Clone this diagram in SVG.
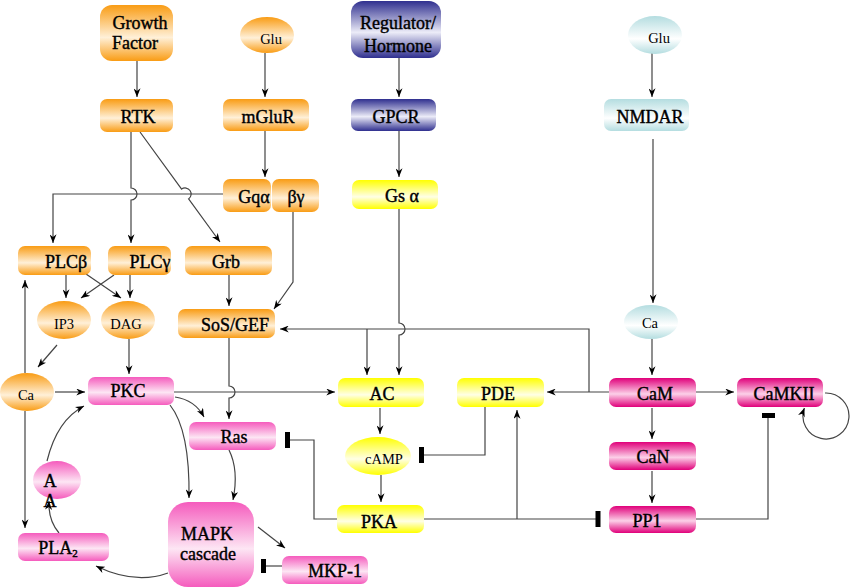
<svg xmlns="http://www.w3.org/2000/svg" width="850" height="588" viewBox="0 0 850 588">
<defs>
<linearGradient id="gO" x1="0" y1="0" x2="0" y2="1"><stop offset="0" stop-color="#f99c14"/><stop offset="0.58" stop-color="#fff0d8"/><stop offset="1" stop-color="#f99c14"/></linearGradient>
<linearGradient id="gB" x1="0" y1="0" x2="0" y2="1"><stop offset="0" stop-color="#2f2f8f"/><stop offset="0.55" stop-color="#ececf8"/><stop offset="1" stop-color="#2f2f8f"/></linearGradient>
<linearGradient id="gY" x1="0" y1="0" x2="0" y2="1"><stop offset="0" stop-color="#ffff00"/><stop offset="0.58" stop-color="#ffffe6"/><stop offset="1" stop-color="#ffff00"/></linearGradient>
<linearGradient id="gP" x1="0" y1="0" x2="0" y2="1"><stop offset="0" stop-color="#f55bbd"/><stop offset="0.55" stop-color="#fde6f4"/><stop offset="1" stop-color="#f55bbd"/></linearGradient>
<linearGradient id="gM" x1="0" y1="0" x2="0" y2="1"><stop offset="0" stop-color="#e0007a"/><stop offset="0.55" stop-color="#fcd0e8"/><stop offset="1" stop-color="#e0007a"/></linearGradient>
<linearGradient id="gC" x1="0" y1="0" x2="0" y2="1"><stop offset="0" stop-color="#b4dde0"/><stop offset="0.6" stop-color="#ffffff"/><stop offset="1" stop-color="#b4dde0"/></linearGradient>
<marker id="arr" viewBox="0 0 10 8" refX="10" refY="4" markerWidth="9" markerHeight="7" markerUnits="userSpaceOnUse" orient="auto"><path d="M0,0 L10,4 L0,8 L3,4 z" fill="#000"/></marker>
<style>
.t{font-family:"Liberation Serif","Times New Roman",serif;font-size:18px;fill:#000;stroke:#000;stroke-width:0.4;text-anchor:middle}
.s{font-family:"Liberation Serif","Times New Roman",serif;font-size:14.5px;fill:#000;text-anchor:middle}
.ln{fill:none;stroke:#444;stroke-width:1.2}
.a{marker-end:url(#arr)}
.bar{stroke:#000;stroke-width:5;fill:none}
</style>
</defs>
<rect width="850" height="588" fill="#fff"/>

<g id="connectors">
<path class="ln a" d="M137,61 V97"/>
<path class="ln a" d="M265,53 V97"/>
<path class="ln a" d="M265,131 V177"/>
<path class="ln a" d="M399,58 V97"/>
<path class="ln a" d="M399,131 V177"/>
<path class="ln a" d="M652,53 V97"/>
<path class="ln a" d="M653,139 V303"/>
<path class="ln a" d="M131,132 V188 A6,6 0 0,1 131,200 V243"/>
<path class="ln a" d="M140,132 L181.6,189.1 A6,6 0 0,1 188.6,198.9 L220,242"/>
<path class="ln a" d="M223,194 H53 V243"/>
<path class="ln a" d="M293,212 V282 L274,309"/>
<path class="ln a" d="M229,275 V306"/>
<path class="ln a" d="M66,275 V298"/>
<path class="ln a" d="M130,275 V298"/>
<path class="ln a" d="M86,274 L121,298"/>
<path class="ln a" d="M114,275 L81,298"/>
<path class="ln a" d="M57,345 L38,367"/>
<path class="ln a" d="M129,339 V374"/>
<path class="ln a" d="M55,392 H85"/>
<path class="ln a" d="M25,373 V280"/>
<path class="ln a" d="M25,411 V528"/>
<path class="ln a" d="M229,338 V386 A6,6 0 0,1 229,398 V419"/>
<path class="ln a" d="M174,392 H335"/>
<path class="ln a" d="M399,209 V323 A6,6 0 0,1 399,335 V375"/>
<path class="ln a" d="M609,392 H547"/>
<path class="ln a" d="M589,392 V329 H280"/>
<path class="ln a" d="M367,329 V375"/>
<path class="ln a" d="M380,408 V434"/>
<path class="ln a" d="M381,475 V502"/>
<path class="ln" d="M337,519 H314 V440 H290"/>
<line class="bar" x1="287.5" y1="432" x2="287.5" y2="448"/>
<path class="ln" d="M485,407 V455 H424"/>
<line class="bar" x1="421.5" y1="447" x2="421.5" y2="463"/>
<path class="ln" d="M424,519 H596"/>
<line class="bar" x1="598" y1="511" x2="598" y2="527"/>
<path class="ln a" d="M517,519 V410"/>
<path class="ln a" d="M652,339 V375"/>
<path class="ln a" d="M696,392 H734"/>
<path class="ln a" d="M652,408 V439"/>
<path class="ln a" d="M652,471 V503"/>
<path class="ln" d="M696,519 H768 V418"/>
<line class="bar" x1="762" y1="415.5" x2="775" y2="415.5"/>
<path class="ln a" d="M825,393 A23,23 0 1,1 804.4,408"/>
<path class="ln a" d="M175,397 Q195,400 204,417"/>
<path class="ln a" d="M170,405 Q190,430 189,498"/>
<path class="ln a" d="M229,450 Q239,470 233,500"/>
<path class="ln a" d="M258,527 L285,548"/>
<path class="ln" d="M282,566 H266"/>
<line class="bar" x1="263.5" y1="559" x2="263.5" y2="573"/>
<path class="ln a" d="M168,573 Q135,585 96,566"/>
<path class="ln a" d="M59,533 Q48,520 49,501"/>
<path class="ln a" d="M47,461 Q57,420 84,406"/>
</g>

<g id="growth-factor"><rect x="100" y="5" width="73" height="56" rx="12" fill="url(#gO)"/><text class="t" x="140" y="29">Growth</text><text class="t" x="135" y="49">Factor</text></g>
<g id="glu-1"><ellipse cx="267" cy="35" rx="27" ry="18" fill="url(#gO)"/><text class="s" x="271" y="44">Glu</text></g>
<g id="rtk"><rect x="100" y="99" width="73" height="33" rx="7" fill="url(#gO)"/><text class="t" x="138" y="123">RTK</text></g>
<g id="mglur"><rect x="223" y="99" width="86" height="32" rx="7" fill="url(#gO)"/><text class="t" x="268" y="123">mGluR</text></g>
<g id="gqa"><rect x="223" y="179" width="48" height="33" rx="7" fill="url(#gO)"/><text class="t" x="254" y="203">Gqα</text></g>
<g id="bg"><rect x="272" y="179" width="47" height="33" rx="7" fill="url(#gO)"/><text class="t" x="296" y="203">βγ</text></g>
<g id="regulator"><rect x="351" y="1" width="90" height="57" rx="12" fill="url(#gB)"/><text class="t" x="398" y="29">Regulator/</text><text class="t" x="398" y="52">Hormone</text></g>
<g id="gpcr"><rect x="351" y="99" width="85" height="32" rx="7" fill="url(#gB)"/><text class="t" x="396" y="123">GPCR</text></g>
<g id="gsa"><rect x="352" y="180" width="86" height="29" rx="7" fill="url(#gY)"/><text class="t" x="402" y="202">Gs α</text></g>
<g id="glu-2"><ellipse cx="655" cy="35" rx="27" ry="19" fill="url(#gC)"/><text class="s" x="659" y="43">Glu</text></g>
<g id="nmdar"><rect x="604" y="99" width="85" height="32" rx="7" fill="url(#gC)"/><text class="t" x="650" y="123">NMDAR</text></g>
<g id="plcb"><rect x="18" y="246" width="73" height="29" rx="7" fill="url(#gO)"/><text class="t" x="66" y="268">PLCβ</text></g>
<g id="plcg"><rect x="108" y="246" width="63" height="29" rx="7" fill="url(#gO)"/><text class="t" x="150" y="268">PLCγ</text></g>
<g id="grb"><rect x="185" y="246" width="87" height="29" rx="7" fill="url(#gO)"/><text class="t" x="226" y="268">Grb</text></g>
<g id="ip3"><ellipse cx="64" cy="320" rx="27" ry="19" fill="url(#gO)"/><text class="s" x="64" y="329">IP3</text></g>
<g id="dag"><ellipse cx="128" cy="320" rx="27" ry="19" fill="url(#gO)"/><text class="s" x="126" y="329">DAG</text></g>
<g id="sos"><rect x="178" y="309" width="97" height="29" rx="7" fill="url(#gO)"/><text class="t" x="235" y="331">SoS/GEF</text></g>
<g id="ca-1"><ellipse cx="27" cy="392" rx="27" ry="19" fill="url(#gO)"/><text class="s" x="26" y="400">Ca</text></g>
<g id="pkc"><rect x="88" y="377" width="86" height="28" rx="7" fill="url(#gP)"/><text class="t" x="128" y="397">PKC</text></g>
<g id="ac"><rect x="338" y="378" width="86" height="29" rx="7" fill="url(#gY)"/><text class="t" x="382" y="400">AC</text></g>
<g id="pde"><rect x="457" y="378" width="87" height="29" rx="7" fill="url(#gY)"/><text class="t" x="498" y="400">PDE</text></g>
<g id="ca-2"><ellipse cx="651" cy="322" rx="27" ry="17" fill="url(#gC)"/><text class="s" x="650" y="328">Ca</text></g>
<g id="cam"><rect x="609" y="378" width="87" height="29" rx="7" fill="url(#gM)"/><text class="t" x="655" y="400">CaM</text></g>
<g id="camkii"><rect x="737" y="378" width="86" height="29" rx="7" fill="url(#gM)"/><text class="t" x="784" y="400">CaMKII</text></g>
<g id="can"><rect x="609" y="442" width="87" height="28" rx="7" fill="url(#gM)"/><text class="t" x="653" y="463">CaN</text></g>
<g id="pp1"><rect x="609" y="506" width="87" height="27" rx="7" fill="url(#gM)"/><text class="t" x="647" y="527">PP1</text></g>
<g id="camp"><ellipse cx="378" cy="456" rx="33" ry="19" fill="url(#gY)"/><text class="s" x="384" y="464">cAMP</text></g>
<g id="pka"><rect x="337" y="505" width="87" height="28" rx="7" fill="url(#gY)"/><text class="t" x="379" y="528">PKA</text></g>
<g id="ras"><rect x="189" y="422" width="87" height="28" rx="7" fill="url(#gP)"/><text class="t" x="234" y="443">Ras</text></g>
<g id="mapk"><rect x="168" y="502" width="86" height="85" rx="20" fill="url(#gP)"/><text class="t" x="207" y="540">MAPK</text><text class="t" x="208" y="560">cascade</text></g>
<g id="mkp1"><rect x="282" y="556" width="86" height="28" rx="7" fill="url(#gP)"/><text class="t" x="335" y="577">MKP-1</text></g>
<g id="aa"><ellipse cx="57" cy="480" rx="24" ry="19" fill="url(#gP)"/><text class="t" x="50" y="487">A</text><text class="t" x="50" y="507">A</text></g>
<g id="pla2"><rect x="18" y="533" width="91" height="28" rx="7" fill="url(#gP)"/><text class="t" x="58" y="554">PLA<tspan font-size="11" dy="3">2</tspan></text></g>
</svg>
